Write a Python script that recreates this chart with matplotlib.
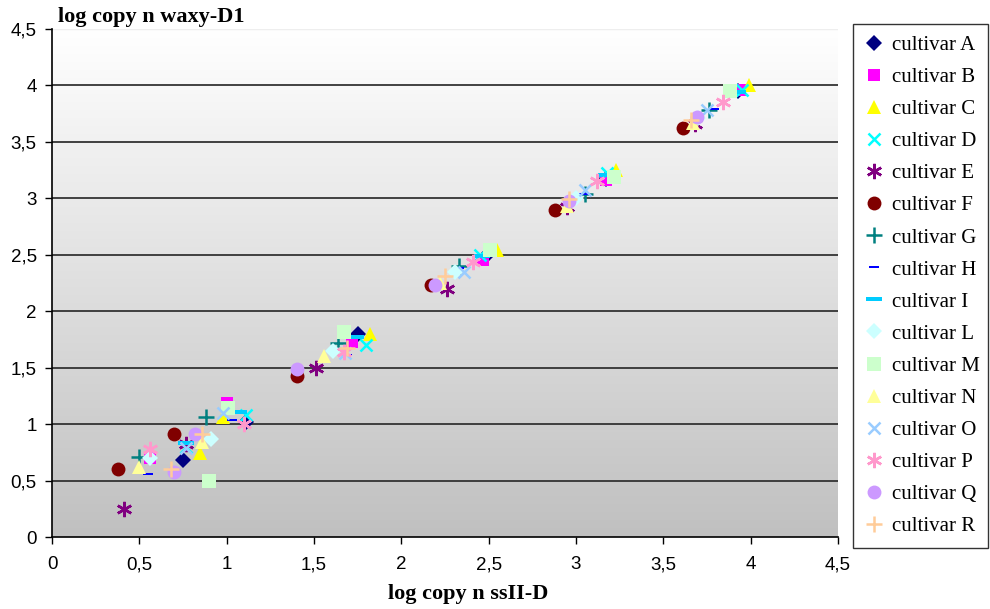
import numpy as np
import matplotlib
matplotlib.use("Agg")
import matplotlib.pyplot as plt
from matplotlib.lines import Line2D

# (x, y) pairs per cultivar
names = ["A", "B", "C", "D", "E", "F", "G", "H", "I",
         "L", "M", "N", "O", "P", "Q", "R"]

x_A = [0.75, 1.11, 1.75, 2.50, 3.17, 3.93]
y_A = [0.68, 1.02, 1.80, 2.52, 3.17, 3.95]
x_B = [0.56, 1.00, 1.72, 2.47, 3.17, 3.94]
y_B = [0.70, 1.19, 1.73, 2.45, 3.16, 3.96]
x_C = [0.85, 0.98, 1.82, 2.55, 3.23, 3.99]
y_C = [0.74, 1.06, 1.80, 2.54, 3.25, 4.00]
x_D = [0.77, 1.11, 1.80, 2.45, 3.18, 3.95]
y_D = [0.80, 1.08, 1.70, 2.50, 3.22, 3.96]
x_E = [0.41, 0.77, 1.51, 2.26, 2.95, 3.68]
y_E = [0.25, 0.82, 1.50, 2.20, 2.92, 3.66]
x_F = [0.38, 0.70, 1.40, 2.17, 2.88, 3.61]
y_F = [0.60, 0.91, 1.43, 2.23, 2.90, 3.62]
x_G = [0.50, 0.88, 1.64, 2.33, 3.05, 3.76]
y_G = [0.71, 1.06, 1.72, 2.40, 3.04, 3.78]
x_H = [0.55, 1.03, 1.69, 2.33, 3.04, 3.79]
y_H = [0.56, 1.04, 1.61, 2.38, 3.04, 3.79]
x_I = [0.77, 1.07, 1.74, 2.46, 3.17, 3.93]
y_I = [0.83, 1.11, 1.77, 2.49, 3.21, 3.94]
x_L = [0.56, 0.91, 1.61, 2.31, 3.00, 3.70]
y_L = [0.70, 0.87, 1.65, 2.35, 3.00, 3.71]
x_M = [0.90, 1.01, 1.67, 2.51, 3.22, 3.88]
y_M = [0.50, 1.14, 1.82, 2.54, 3.19, 3.95]
x_N = [0.50, 0.86, 1.56, 2.22, 2.95, 3.67]
y_N = [0.62, 0.84, 1.60, 2.25, 2.93, 3.67]
x_O = [0.77, 0.98, 1.68, 2.36, 3.05, 3.75]
y_O = [0.79, 1.10, 1.63, 2.35, 3.07, 3.78]
x_P = [0.56, 1.10, 1.67, 2.41, 3.12, 3.84]
y_P = [0.78, 1.00, 1.64, 2.44, 3.15, 3.85]
x_Q = [0.70, 0.82, 1.40, 2.19, 2.96, 3.69]
y_Q = [0.58, 0.91, 1.49, 2.23, 2.98, 3.72]
x_R = [0.68, 0.86, 1.69, 2.25, 2.96, 3.66]
y_R = [0.60, 0.91, 1.67, 2.31, 2.99, 3.69]

xs = [x_A, x_B, x_C, x_D, x_E, x_F, x_G, x_H, x_I,
      x_L, x_M, x_N, x_O, x_P, x_Q, x_R]
ys = [y_A, y_B, y_C, y_D, y_E, y_F, y_G, y_H, y_I,
      y_L, y_M, y_N, y_O, y_P, y_Q, y_R]

ticks = [0, 0.5, 1, 1.5, 2, 2.5, 3, 3.5, 4, 4.5]
tick_labels = ["0", "0,5", "1", "1,5", "2", "2,5", "3", "3,5", "4", "4,5"]

# excel-ish marker styles: (marker, colour, size, filled, edge width)
dash_s = [(-1, -0.28), (1, -0.28), (1, 0.28), (-1, 0.28), (-1, -0.28)]
star6 = (6, 2, 0)
styles = [
    ("D", "#000080", 8, True, 0),
    ("s", "#FF00FF", 9, True, 0),
    ("^", "#FFFF00", 10, True, 0),
    ("x", "#00FFFF", 9, False, 1.8),
    (star6, "#800080", 11, False, 1.8),
    ("o", "#800000", 10, True, 0),
    ("+", "#008080", 11, False, 1.8),
    (dash_s, "#0000FF", 7, True, 0),
    (dash_s, "#00CCFF", 12, True, 0),
    ("D", "#CCFFFF", 8, True, 0),
    ("s", "#CCFFCC", 10, True, 0),
    ("^", "#FFFF99", 10, True, 0),
    ("x", "#99CCFF", 9, False, 1.8),
    (star6, "#FF99CC", 11, False, 1.8),
    ("o", "#CC99FF", 10, True, 0),
    ("+", "#FFCC99", 11, False, 1.8),
]

fig = plt.figure(figsize=(9.9, 6.09), dpi=100)
ax = fig.add_axes([52 / 990, 72 / 609, 786 / 990, 508 / 609])

# vertical gradient background: white at top to grey at bottom
grad = np.linspace(1.0, 0.0, 256).reshape(-1, 1)
top = np.array([1.0, 1.0, 1.0])
bot = np.array([192, 192, 192]) / 255
img = bot + (top - bot) * grad[..., None]
ax.imshow(img, extent=[0, 4.5, 0, 4.5], aspect="auto", zorder=0, origin="upper")

for yv in ticks[1:-1]:
    ax.axhline(yv, color="#333333", lw=1.3, zorder=1)
ax.axhline(4.5, color="#eeeeee", lw=1.0, zorder=1)

handles = []
for name, x, y, st in zip(names, xs, ys, styles):
    mk, col, ms, filled, mew = st
    kw = dict(marker=mk, ms=ms, ls="none", zorder=3)
    if filled:
        kw.update(mfc=col, mec=col, mew=0)
    else:
        kw.update(color=col, mew=mew)
    ax.plot(x, y, **kw)
    handles.append(Line2D([], [], label="cultivar " + name, **kw))

ax.set_xlim(0, 4.5)
ax.set_ylim(0, 4.5)
ax.set_xticks(ticks)
ax.set_xticklabels(tick_labels)
ax.set_yticks(ticks)
ax.set_yticklabels(tick_labels)
ax.tick_params(direction="out", length=5, width=1, labelsize=13.5, pad=6)
for lab in ax.get_xticklabels() + ax.get_yticklabels():
    lab.set_fontfamily("Liberation Sans")
ax.tick_params(axis="x", pad=9)
for side in ["top", "right"]:
    ax.spines[side].set_visible(False)
for side in ["left", "bottom"]:
    ax.spines[side].set_linewidth(1.2)

fig.text(58 / 990, 1 - 17 / 609, "log copy n waxy-D1", family="Liberation Serif",
         weight="bold", fontsize=16, va="center", ha="left")
fig.text(468 / 990, 1 - 594 / 609, "log copy n ssII-D", family="Liberation Serif",
         weight="bold", fontsize=16, va="center", ha="center")

leg = fig.legend(handles=handles, loc="upper left", mode="expand",
                 bbox_to_anchor=(853 / 990, 1 - 24 / 609, 135 / 990, 0),
                 prop={"family": "Liberation Serif", "size": 15},
                 frameon=True, fancybox=False, edgecolor="black",
                 borderpad=0.55, labelspacing=0.6, handlelength=0.9,
                 handletextpad=0.4, borderaxespad=0)
leg.get_frame().set_linewidth(1.0)

fig.savefig("out.png", dpi=100)
